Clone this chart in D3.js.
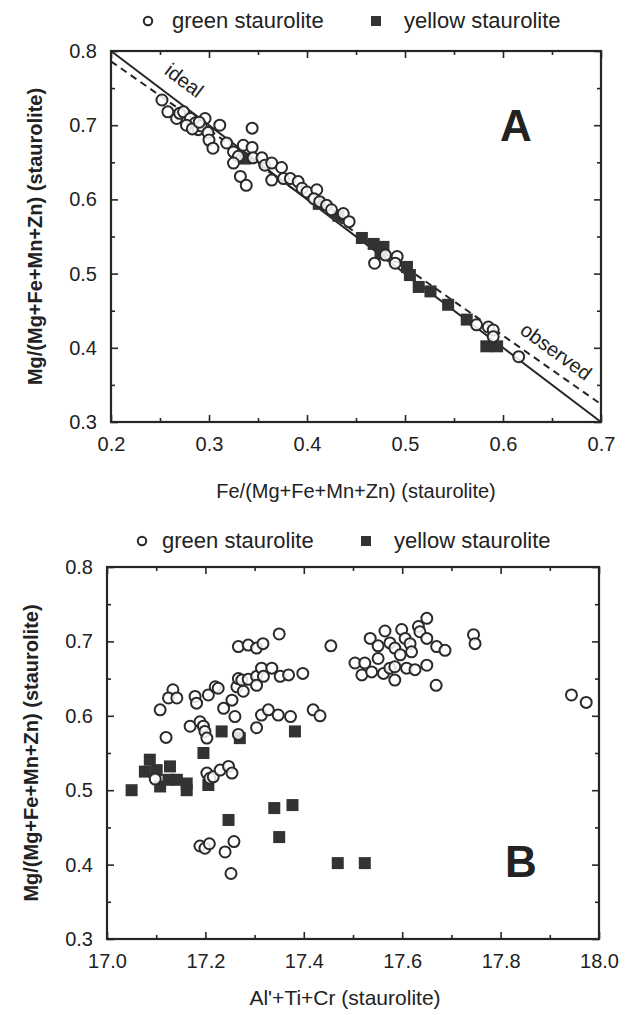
<!DOCTYPE html>
<html>
<head>
<meta charset="utf-8">
<script src="https://d3js.org/d3.v7.min.js"></script>
<style>
  body { margin: 0; background: #fff; }
  svg text { font-family: 'Liberation Sans', Arial, Helvetica, sans-serif; fill: #222; }
</style>
</head>
<body>
<div id="chart"></div>
<script>
// ---- panel A data: Fe/(Mg+Fe+Mn+Zn) vs Mg/(Mg+Fe+Mn+Zn)
var greenA = [
  [0.252,0.734],[0.258,0.718],[0.267,0.709],[0.270,0.716],[0.274,0.718],[0.281,0.709],
  [0.286,0.703],[0.277,0.700],[0.289,0.694],[0.296,0.709],[0.292,0.699],[0.299,0.690],
  [0.283,0.695],[0.290,0.704],[0.300,0.680],
  [0.311,0.700],[0.304,0.669],[0.318,0.676],[0.325,0.664],[0.330,0.658],[0.335,0.673],
  [0.325,0.649],[0.332,0.631],[0.338,0.619],[0.344,0.696],[0.344,0.670],[0.345,0.656],
  [0.354,0.656],[0.357,0.646],[0.364,0.649],[0.364,0.626],[0.374,0.643],[0.376,0.628],
  [0.383,0.628],[0.391,0.624],[0.395,0.615],[0.400,0.610],[0.410,0.613],[0.407,0.601],
  [0.413,0.597],[0.420,0.592],[0.425,0.586],[0.437,0.581],[0.443,0.570],
  [0.469,0.514],[0.480,0.525],[0.492,0.523],[0.490,0.514],
  [0.573,0.431],[0.585,0.428],[0.590,0.424],[0.590,0.415],[0.616,0.388]
];
var yellowA = [
  [0.337,0.655],[0.412,0.594],[0.432,0.578],
  [0.456,0.548],[0.468,0.540],[0.478,0.536],[0.475,0.527],[0.502,0.509],[0.505,0.498],
  [0.514,0.482],[0.526,0.476],[0.544,0.458],[0.563,0.438],[0.583,0.402],[0.594,0.402]
];
var idealLine = [[0.2,0.8],[0.7,0.3]];
var observedLine = [[0.2,0.786],[0.7,0.324]];

// ---- panel B data: Al'+Ti+Cr vs Mg/(Mg+Fe+Mn+Zn)
var greenB = [
  [17.108,0.608],[17.134,0.635],[17.125,0.624],[17.142,0.624],[17.120,0.571],[17.169,0.586],
  [17.179,0.626],[17.182,0.617],[17.189,0.592],[17.196,0.586],[17.199,0.579],[17.203,0.570],
  [17.206,0.628],[17.220,0.639],[17.226,0.637],[17.237,0.610],[17.254,0.621],[17.260,0.599],
  [17.264,0.639],[17.267,0.650],[17.267,0.693],[17.267,0.575],[17.274,0.648],[17.277,0.633],
  [17.287,0.695],[17.287,0.649],[17.304,0.653],[17.304,0.641],[17.304,0.584],[17.304,0.691],
  [17.314,0.664],[17.317,0.697],[17.318,0.653],[17.314,0.601],[17.328,0.608],[17.335,0.664],
  [17.348,0.601],[17.350,0.710],[17.352,0.653],[17.369,0.655],[17.373,0.599],[17.398,0.657],
  [17.419,0.608],[17.433,0.600],[17.455,0.694],
  [17.098,0.515],[17.203,0.523],[17.209,0.516],[17.216,0.518],[17.230,0.527],[17.247,0.532],
  [17.254,0.523],[17.189,0.425],[17.199,0.422],[17.208,0.428],[17.240,0.417],[17.258,0.431],
  [17.252,0.388],
  [17.650,0.731],[17.633,0.720],[17.599,0.716],[17.565,0.714],[17.535,0.704],[17.575,0.698],
  [17.606,0.704],[17.636,0.713],[17.650,0.704],[17.551,0.694],[17.585,0.691],[17.616,0.697],
  [17.619,0.686],[17.670,0.693],[17.687,0.688],[17.745,0.709],[17.748,0.697],
  [17.504,0.671],[17.524,0.671],[17.518,0.655],[17.538,0.659],[17.551,0.677],[17.562,0.657],
  [17.575,0.664],[17.585,0.666],[17.585,0.648],[17.596,0.682],[17.609,0.664],[17.626,0.662],
  [17.650,0.668],[17.669,0.641],[17.944,0.628],[17.974,0.618]
];
var yellowB = [
  [17.050,0.500],[17.087,0.541],[17.077,0.525],[17.101,0.527],[17.108,0.505],[17.128,0.532],
  [17.125,0.514],[17.142,0.514],[17.162,0.509],[17.162,0.500],[17.206,0.507],[17.196,0.550],
  [17.233,0.579],[17.270,0.570],[17.382,0.579],
  [17.247,0.460],[17.340,0.476],[17.377,0.480],[17.350,0.437],[17.469,0.402],[17.524,0.402]
];

// ---- axes ticks and labels
var xTicksA = [0.2,0.3,0.4,0.5,0.6,0.7];
var xMinorA = [0.25,0.35,0.45,0.55,0.65];
var yTicks = [0.3,0.4,0.5,0.6,0.7,0.8];
var yMinor = [0.35,0.45,0.55,0.65,0.75];
var xTicksB = [17.0,17.2,17.4,17.6,17.8,18.0];
var xMinorB = [17.1,17.3,17.5,17.7,17.9];

var yTitle = "Mg/(Mg+Fe+Mn+Zn)  (staurolite)";
var xTitleA = "Fe/(Mg+Fe+Mn+Zn)  (staurolite)";
var xTitleB = "Al'+Ti+Cr (staurolite)";

var ink = "#262626";

var svg = d3.select("#chart").append("svg")
    .attr("width", 631)
    .attr("height", 1015);

function drawPanel(p) {
  var x = d3.scaleLinear().domain(p.xDomain).range([p.left, p.right]);
  var y = d3.scaleLinear().domain([0.3, 0.8]).range([p.bottom, p.top]);
  var g = svg.append("g");

  // inward ticks on all four sides
  function ax(gen, vals, size, tx, ty, labels, fmt, pad) {
    var a = g.append("g")
      .attr("transform", "translate(" + tx + "," + ty + ")")
      .call(gen.tickValues(vals).tickSize(-size).tickPadding(pad || 3)
               .tickFormat(labels ? fmt : function() { return ""; }));
    a.select(".domain").remove();
    a.selectAll("line").attr("stroke", ink).attr("stroke-width", 1.6);
    a.selectAll("text").style("font-size", "20px").attr("fill", ink);
    return a;
  }
  ax(d3.axisBottom(x), p.xTicks, 7, 0, p.bottom, true, p.xFmt, 15);
  ax(d3.axisBottom(x), p.xMinor, 4, 0, p.bottom, false);
  ax(d3.axisTop(x), p.xTicks, 7, 0, p.top, false);
  ax(d3.axisTop(x), p.xMinor, 4, 0, p.top, false);
  ax(d3.axisLeft(y), yTicks, 7, p.left, 0, true, d3.format(".1f"), 14);
  ax(d3.axisLeft(y), yMinor, 4, p.left, 0, false);
  ax(d3.axisRight(y), yTicks, 7, p.right, 0, false);
  ax(d3.axisRight(y), yMinor, 4, p.right, 0, false);

  g.append("rect")
    .attr("x", p.left).attr("y", p.top)
    .attr("width", p.right - p.left).attr("height", p.bottom - p.top)
    .attr("fill", "none").attr("stroke", ink).attr("stroke-width", 2.2);

  if (p.lines) p.lines(g, x, y);

  g.selectAll(".sq").data(p.yellow).enter().append("rect")
    .attr("x", function(d) { return x(d[0]) - 6; })
    .attr("y", function(d) { return y(d[1]) - 6; })
    .attr("width", 12).attr("height", 12)
    .attr("fill", "#333");

  g.selectAll(".ci").data(p.green).enter().append("circle")
    .attr("cx", function(d) { return x(d[0]); })
    .attr("cy", function(d) { return y(d[1]); })
    .attr("r", 5.5)
    .attr("fill", "#fff").attr("fill-opacity", 0.85)
    .attr("stroke", "#2a2a2a").attr("stroke-width", 2);

  // axis titles
  g.append("text")
    .attr("x", (p.left + p.right) / 2 + (p.xTitleShift || 0)).attr("y", p.xTitleY)
    .attr("text-anchor", "middle").style("font-size", p.xTitleSize + "px")
    .text(p.xTitle);
  g.append("text")
    .attr("transform", "translate(" + p.yTitleX + "," + ((p.top + p.bottom) / 2) + ") rotate(-90)")
    .attr("text-anchor", "middle").style("font-size", "20px").style("font-weight", "bold")
    .text(yTitle);

  // panel letter
  g.append("text")
    .attr("x", p.letterX).attr("y", p.letterY)
    .attr("text-anchor", "middle")
    .style("font-size", "44px").style("font-weight", "bold")
    .text(p.letter);

  // legend
  var lg = svg.append("g");
  lg.append("circle").attr("cx", p.legX[0]).attr("cy", p.legY).attr("r", 4.2)
    .attr("fill", "none").attr("stroke", ink).attr("stroke-width", 2);
  lg.append("text").attr("x", p.legX[1]).attr("y", p.legY + 7)
    .style("font-size", "22px").text("green staurolite");
  lg.append("rect").attr("x", p.legX[2] - 5).attr("y", p.legY - 5)
    .attr("width", 10).attr("height", 10).attr("fill", "#333");
  lg.append("text").attr("x", p.legX[3]).attr("y", p.legY + 7)
    .style("font-size", "22px").text("yellow staurolite");
}

drawPanel({
  left: 111, right: 601, top: 51, bottom: 422,
  xDomain: [0.2, 0.7], xTicks: xTicksA, xMinor: xMinorA, xFmt: d3.format(".1f"),
  green: greenA, yellow: yellowA,
  xTitle: xTitleA, xTitleY: 498, xTitleSize: 20, yTitleX: 42,
  letter: "A", letterX: 516, letterY: 141,
  legY: 21, legX: [148, 172, 376, 404],
  lines: function(g, x, y) {
    var line = d3.line().x(function(d) { return x(d[0]); }).y(function(d) { return y(d[1]); });
    g.append("path").datum(idealLine).attr("d", line)
      .attr("fill", "none").attr("stroke", ink).attr("stroke-width", 2);
    g.append("path").datum(observedLine).attr("d", line)
      .attr("fill", "none").attr("stroke", ink).attr("stroke-width", 2)
      .attr("stroke-dasharray", "7,5");
    g.append("text")
      .attr("transform", "translate(180,86) rotate(37)")
      .attr("text-anchor", "middle").style("font-size", "20px").text("ideal");
    g.append("text")
      .attr("transform", "translate(552,357) rotate(36)")
      .attr("text-anchor", "middle").style("font-size", "20px").text("observed");
  }
});

drawPanel({
  left: 107, right: 599, top: 567, bottom: 939,
  xDomain: [17.0, 18.0], xTicks: xTicksB, xMinor: xMinorB, xFmt: d3.format(".1f"),
  green: greenB, yellow: yellowB,
  xTitle: xTitleB, xTitleY: 1005, xTitleSize: 21, xTitleShift: -8, yTitleX: 38,
  letter: "B", letterX: 521, letterY: 877,
  legY: 541, legX: [142, 162, 366, 394]
});
</script>
</body>
</html>
